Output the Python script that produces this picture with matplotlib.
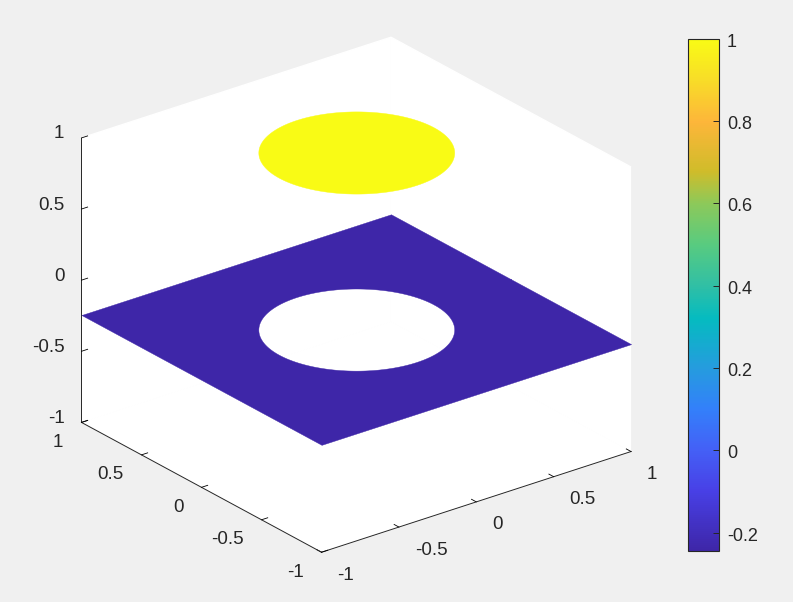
import numpy as np
import matplotlib
matplotlib.use('Agg')
import matplotlib.pyplot as plt
from matplotlib.cm import ScalarMappable
from matplotlib.colors import LinearSegmentedColormap, Normalize
from matplotlib.transforms import ScaledTranslation
from mpl_toolkits.mplot3d import proj3d
from mpl_toolkits.mplot3d.art3d import Poly3DCollection

plt.rcParams['font.family'] = ['Liberation Sans', 'DejaVu Sans']
plt.rcParams['font.size'] = 13.5
plt.rcParams['text.color'] = '#262626'

# values
disc_radius = 0.5
disc_level = 1.0
plane_level = -0.245
axis_ticks = [-1, -0.5, 0, 0.5, 1]
axis_labels = ['-1', '-0.5', '0', '0.5', '1']
cbar_ticks = [-0.2, 0, 0.2, 0.4, 0.6, 0.8, 1]
cbar_labels = ['-0.2', '0', '0.2', '0.4', '0.6', '0.8', '1']

# colours along the colorbar, sampled by eye (parula)
cmap_values = [-0.245, -0.1, 0, 0.1, 0.2, 0.32, 0.4, 0.5, 0.6, 0.68, 0.8, 0.9, 1]
cmap_colors = ['#3E26A8', '#4840E6', '#4460F6', '#3380FA', '#259CDE', '#05BBC0', '#30BFA5',
               '#58CB80', '#8CC95A', '#D0BC2A', '#FDB63A', '#F8DC28', '#F9FB15']
norm = Normalize(plane_level, disc_level)
parula = LinearSegmentedColormap.from_list(
    'parula', [(float(norm(v)), c) for v, c in zip(cmap_values, cmap_colors)], N=256)

W, H = 793, 602
bg = '#F0F0F0'
fig = plt.figure(figsize=(W / 100, H / 100), dpi=100, facecolor=bg)

# square 3d axes, centred where the box centre sits in the picture
side = 760
cx, cy = 346, 305
ax = fig.add_axes([(cx - side / 2) / W, (H - cy - side / 2) / H, side / W, side / H],
                  projection='3d', proj_type='ortho', facecolor='none')
ax.view_init(elev=24.8, azim=-127.8)
ax.set_box_aspect((1, 1, 0.8), zoom=0.813)

# disc, and the plane as one polygon with a keyhole cut to the circle
theta = np.linspace(0, 2 * np.pi, 361)
edge = 1 / np.maximum(np.abs(np.cos(theta)), np.abs(np.sin(theta)))
circle_x = disc_radius * np.cos(theta)
circle_y = disc_radius * np.sin(theta)
outer_x = edge * np.cos(theta)
outer_y = edge * np.sin(theta)

plane_xy = np.column_stack([np.r_[outer_x, circle_x[::-1]], np.r_[outer_y, circle_y[::-1]]])
disc_xy = np.column_stack([circle_x, circle_y])

for xy, level in [(plane_xy, plane_level), (disc_xy, disc_level)]:
    c = parula(norm(level))
    verts = np.column_stack([xy, np.full(len(xy), level)])
    ax.add_collection3d(Poly3DCollection([verts], facecolor=c, edgecolor=c, linewidth=0.3))

ax.set_xlim(-1, 1, view_margin=0)
ax.set_ylim(-1, 1, view_margin=0)
ax.set_zlim(-1, 1, view_margin=0)
ax.grid(False)

for axis in (ax.xaxis, ax.yaxis, ax.zaxis):
    axis.set_ticks(axis_ticks, labels=[''] * len(axis_ticks))
    axis.set_pane_color('white')
    axis.pane.set_edgecolor('white')
    axis.line.set_color('#262626')
    axis.line.set_linewidth(0.7)
    axis._axinfo['tick']['inward_factor'] = 0
    axis._axinfo['tick']['outward_factor'] = 0.25
    axis._axinfo['tick']['linewidth'] = {True: 0.6, False: 0.6}
    axis._axinfo['tick']['color'] = '#262626'

# tick labels set by hand, mplot3d keeps them centred on its own spot
proj = ax.get_proj()
for t, s in zip(axis_ticks, axis_labels):
    for point, offset, ha in [((t, -1, -1), (16, -23), 'left'),
                              ((-1, t, -1), (-18, -20), 'right'),
                              ((-1, 1, t), (-17, 4), 'right')]:
        px, py, _ = proj3d.proj_transform(*point, proj)
        ax.annotate(s, (px, py), xytext=offset, textcoords='offset pixels',
                    ha=ha, va='center', color='#262626', fontsize=13.5,
                    annotation_clip=False)

# colorbar
cax = fig.add_axes([688.3 / W, (H - 551.3) / H, 31 / W, 512.6 / H])
cb = fig.colorbar(ScalarMappable(norm=norm, cmap=parula), cax=cax)
cb.set_ticks(cbar_ticks, labels=cbar_labels)
cb.ax.tick_params(direction='in', length=4, width=0.7, color='#262626',
                  labelcolor='#262626', labelsize=13, pad=5.5)
cb.outline.set_edgecolor('#262626')
cb.outline.set_linewidth(0.8)
shift = ScaledTranslation(0, -1.5 / 100, fig.dpi_scale_trans)
for label in cb.ax.get_yticklabels():
    label.set_transform(label.get_transform() + shift)

plt.savefig('out.png', dpi=100, facecolor=bg)
